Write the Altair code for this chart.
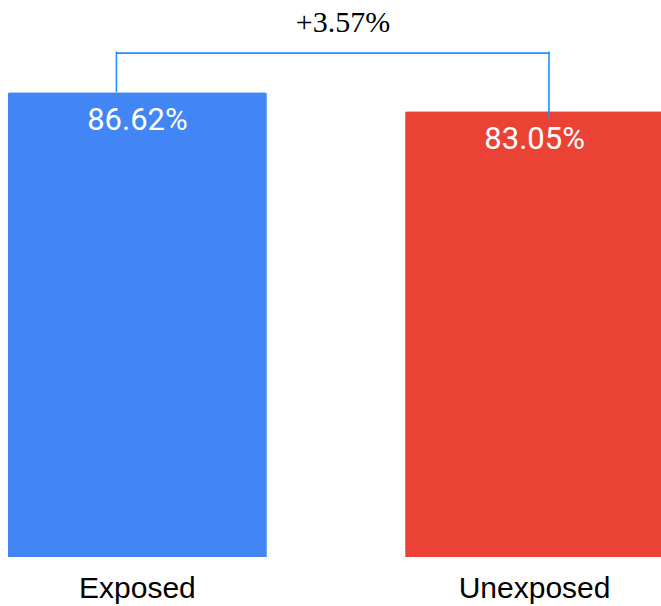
import altair as alt
import pandas as pd

# Completion rates for the two groups
groups = ["Exposed", "Unexposed"]
rates = [86.62, 83.05]
colors = ["#4285F4", "#EA4335"]

# Bracket levels (in value units) and the lift between the groups
bracket_top = 94.2
bracket_level = 93.9
bracket_right_end = 81.9
lift = rates[0] - rates[1]

bars_df = pd.DataFrame({
    "group": groups,
    "rate": rates,
    "label": [f"{r:.2f}%" for r in rates],
})

x_scale = alt.Scale(domain=groups, range=[0, 672], paddingInner=0.348, paddingOuter=0.02)
y_scale = alt.Scale(domain=[0, 103.8], nice=False, zero=True)

x_axis = alt.Axis(
    title=None, ticks=False, domain=False, labelAngle=0,
    labelFont="Liberation Sans", labelFontSize=30, labelColor="black",
    labelPadding=40, labelBaseline="alphabetic", grid=False,
)

bars = alt.Chart(bars_df).mark_bar(
    cornerRadiusTopLeft=2, cornerRadiusTopRight=2
).encode(
    x=alt.X("group:N", scale=x_scale, sort=groups, axis=x_axis),
    y=alt.Y("rate:Q", scale=y_scale, axis=None),
    color=alt.Color("group:N", scale=alt.Scale(domain=groups, range=colors), legend=None),
)

labels = alt.Chart(bars_df).mark_text(
    font="Roboto", fontSize=31, color="white", baseline="alphabetic", align="center", dy=38
).encode(
    x=alt.X("group:N", scale=x_scale, sort=groups, axis=x_axis),
    y=alt.Y("rate:Q", scale=y_scale, axis=None),
    text="label:N",
)

# Bracket connecting the two bars
hline_df = pd.DataFrame({"group": [groups[0]], "g2": [groups[1]], "y": [bracket_level]})
hline = alt.Chart(hline_df).mark_rule(
    color="#1E90FF", strokeWidth=1.6, xOffset=-21, x2Offset=14.4
).encode(
    x=alt.X("group:N", scale=x_scale, axis=x_axis),
    x2="g2:N",
    y=alt.Y("y:Q", scale=y_scale, axis=None),
)

left_df = pd.DataFrame({"group": [groups[0]], "y": [bracket_top], "y2": [rates[0]]})
left_v = alt.Chart(left_df).mark_rule(color="#1E90FF", strokeWidth=1.6, xOffset=-21).encode(
    x=alt.X("group:N", scale=x_scale, axis=x_axis),
    y=alt.Y("y:Q", scale=y_scale, axis=None),
    y2="y2:Q",
)

right_df = pd.DataFrame({"group": [groups[1]], "y": [bracket_top], "y2": [bracket_right_end]})
right_v = alt.Chart(right_df).mark_rule(color="#1E90FF", strokeWidth=1.6, xOffset=14.4).encode(
    x=alt.X("group:N", scale=x_scale, axis=x_axis),
    y=alt.Y("y:Q", scale=y_scale, axis=None),
    y2="y2:Q",
)

lift_df = pd.DataFrame({"group": [groups[0]], "y": [bracket_level], "text": [f"+{lift:.2f}%"]})
lift_text = alt.Chart(lift_df).mark_text(
    font="Liberation Serif", fontSize=30, color="black", baseline="alphabetic",
    align="center", dx=205.5, dy=-21,
).encode(
    x=alt.X("group:N", scale=x_scale, axis=x_axis),
    y=alt.Y("y:Q", scale=y_scale, axis=None),
    text="text:N",
)

chart = alt.layer(bars, labels, hline, left_v, right_v, lift_text).properties(
    width=661,
    height=557,
    padding={"left": 0, "right": 0, "top": 0, "bottom": 49},
    autosize=alt.AutoSizeParams(type="none"),
    background="white",
).configure_view(stroke=None)

chart.save("out.html", embed_options={"renderer": "svg", "actions": False})
